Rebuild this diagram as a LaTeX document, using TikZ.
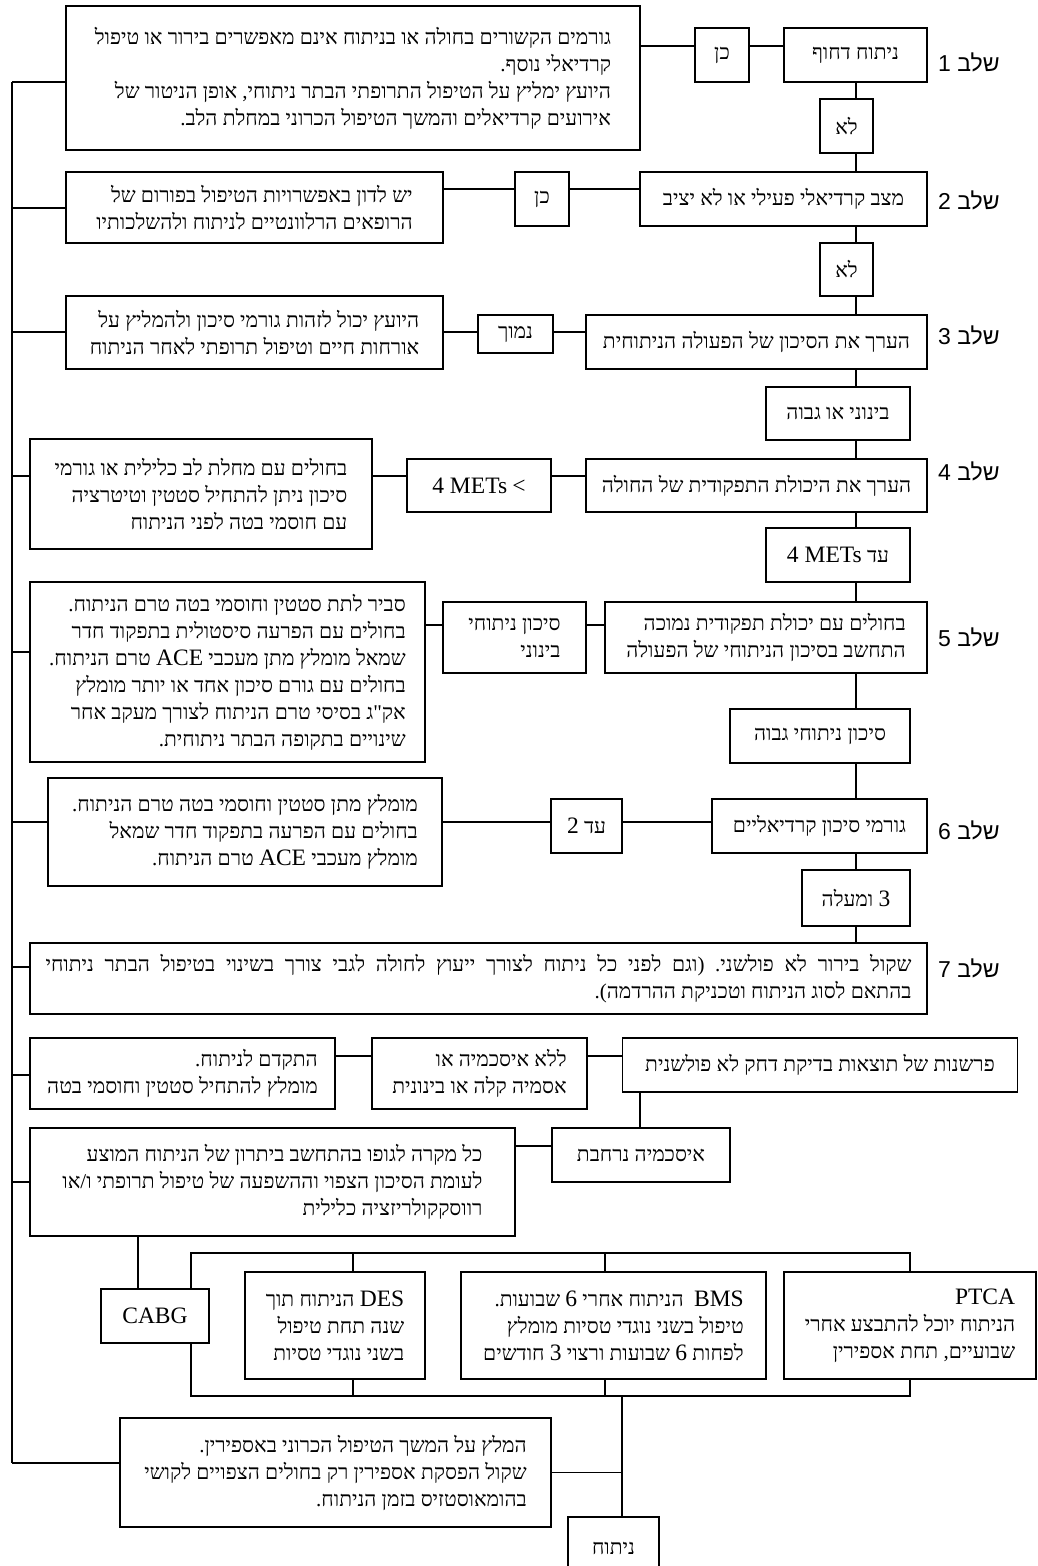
\documentclass[tikz,border=0pt]{standalone}
\usepackage{fontspec}
\setmainfont{Liberation Serif}
\newfontfamily\hebfont[Script=Hebrew]{Liberation Serif}
\newfontfamily\hebsans[Script=Hebrew]{Liberation Sans}
\newfontfamily\latinfont[Scale=1.12]{Liberation Serif}
\TeXXeTstate=1
\frenchspacing
\newcommand{\rl}[1]{\beginR#1\endR}
\newcommand{\lat}[1]{{\latinfont #1}}
\tikzstyle{stepbox} = [rectangle, draw, line width=1.4pt, fill=white, inner xsep=8pt, inner ysep=3pt, align=right, font=\hebfont\fontsize{21}{27}\selectfont]
\tikzstyle{answer} = [stepbox, align=center]
\tikzstyle{steplabel} = [anchor=west, inner sep=0pt, font=\hebsans\fontsize{23}{28}\selectfont]
\tikzstyle{link} = [line width=1.4pt]

\begin{document}
\begin{tikzpicture}[x=1pt, y=-1pt]
  \fill [white] (0,0) rectangle (1037,1566);
  \useasboundingbox (0,0) rectangle (1037,1566);
  \coordinate (sp) at (856,0);
  \coordinate (bus) at (12,0);

  % step 1
  \node (a1) [stepbox, minimum width=574pt, minimum height=144pt] at (353,78)
    {\rl{גורמים הקשורים בחולה או בניתוח אינם מאפשרים בירור או טיפול}\\
     \rl{קרדיאלי נוסף.}\\
     \rl{היועץ ימליץ על הטיפול התרופתי הבתר ניתוחי, אופן הניטור של}\\
     \rl{אירועים קרדיאלים והמשך הטיפול הכרוני במחלת הלב.}};
  \node (yes1) [answer, minimum width=54pt, minimum height=54pt] at (722,55) {\rl{כן}};
  \node (s1) [stepbox, minimum width=143pt, minimum height=54pt] at (855.5,55) {\rl{ניתוח דחוף}};
  \node (no1) [answer, minimum width=53pt, minimum height=54pt] at (846.5,126) {\rl{לא}};
  \node (l1) [steplabel] at (938,62) {\rl{שלב 1}};

  % step 2
  \node (s2) [stepbox, minimum width=287pt, minimum height=54pt] at (783.5,199) {\rl{מצב קרדיאלי פעילי או לא יציב}};
  \node (yes2) [answer, minimum width=54pt, minimum height=54pt] at (542,199) {\rl{כן}};
  \node (a2) [stepbox, minimum width=377pt, minimum height=71pt] at (254.5,207.5)
    {\rl{יש לדון באפשרויות הטיפול בפורום של}\\
     \rl{הרופאים הרלוונטיים לניתוח ולהשלכותיו}};
  \node (no2) [answer, minimum width=53pt, minimum height=53pt] at (846.5,269.5) {\rl{לא}};
  \node (l2) [steplabel] at (938,200) {\rl{שלב 2}};

  % step 3
  \node (s3) [stepbox, minimum width=341pt, minimum height=54pt] at (756.5,342) {\rl{הערך את הסיכון של הפעולה הניתוחית}};
  \node (low3) [answer, minimum width=75pt, minimum height=38pt] at (515.5,334) {\rl{נמוך}};
  \node (a3) [stepbox, minimum width=377pt, minimum height=73pt] at (254.5,332.5)
    {\rl{היועץ יכול לזהות גורמי סיכון ולהמליץ על}\\
     \rl{אורחות חיים וטיפול תרופתי לאחר הניתוח}};
  \node (mid3) [stepbox, minimum width=144pt, minimum height=53pt] at (838,413.5) {\rl{בינוני או גבוה}};
  \node (l3) [steplabel] at (938,335) {\rl{שלב 3}};

  % step 4
  \node (s4) [stepbox, minimum width=341pt, minimum height=53pt] at (756.5,485.5) {\rl{הערך את היכולת התפקודית של החולה}};
  \node (met4) [stepbox, minimum width=144pt, minimum height=53pt] at (479,485.5) {\rl{\lat{<} \beginL\lat{4 METs}\endL}};
  \node (a4) [stepbox, minimum width=342pt, minimum height=110pt] at (201,494)
    {\rl{בחולים עם מחלת לב כלילית או גורמי}\\
     \rl{סיכון ניתן להתחיל סטטין וטיטרציה}\\
     \rl{עם חוסמי בטה לפני הניתוח}};
  \node (upto4) [stepbox, minimum width=144pt, minimum height=54pt] at (838,555) {\rl{עד \beginL\lat{4 METs}\endL}};
  \node (l4) [steplabel] at (938,471) {\rl{שלב 4}};

  % step 5
  \node (s5) [stepbox, minimum width=322pt, minimum height=71pt] at (766,637.5)
    {\rl{בחולים עם יכולת תפקודית נמוכה}\\
     \rl{התחשב בסיכון הניתוחי של הפעולה}};
  \node (med5) [stepbox, minimum width=143pt, minimum height=71pt] at (514.5,637.5)
    {\rl{סיכון ניתוחי}\\ \rl{בינוני}};
  \node (a5) [stepbox, minimum width=395pt, minimum height=180pt] at (227.5,672)
    {\rl{סביר לתת סטטין וחוסמי בטה טרם הניתוח.}\\
     \rl{בחולים עם הפרעה סיסטולית בתפקוד חדר}\\
     \rl{שמאל מומלץ מתן מעכבי \lat{ACE} טרם הניתוח.}\\
     \rl{בחולים עם גורם סיכון אחד או יותר מומלץ}\\
     \rl{אק"ג בסיסי טרם הניתוח לצורך מעקב אחר}\\
     \rl{שינויים בתקופה הבתר ניתוחית.}};
  \node (high5) [stepbox, minimum width=180pt, minimum height=54pt] at (820,736) {\rl{סיכון ניתוחי גבוה}};
  \node (l5) [steplabel] at (938,637) {\rl{שלב 5}};

  % step 6
  \node (s6) [stepbox, minimum width=215pt, minimum height=54pt] at (819.5,826) {\rl{גורמי סיכון קרדיאליים}};
  \node (two6) [answer, minimum width=71pt, minimum height=54pt] at (586.5,826) {\rl{עד \lat{2}}};
  \node (a6) [stepbox, minimum width=394pt, minimum height=108pt] at (245,832)
    {\rl{מומלץ מתן סטטין וחוסמי בטה טרם הניתוח.}\\
     \rl{בחולים עם הפרעה בתפקוד חדר שמאל}\\
     \rl{מומלץ מעכבי \lat{ACE} טרם הניתוח.}};
  \node (three6) [answer, minimum width=108pt, minimum height=56pt] at (856,898) {\rl{\lat{3} ומעלה}};
  \node (l6) [steplabel] at (938,830) {\rl{שלב 6}};

  % step 7
  \node (s7) [stepbox, minimum width=897pt, minimum height=71pt] at (478.5,978.5)
    {\hbox to 866pt{\beginR שקול בירור לא פולשני. (וגם לפני כל ניתוח לצורך ייעוץ לחולה לגבי צורך בשינוי בטיפול הבתר ניתוחי\endR}\\
     \rl{בהתאם לסוג הניתוח וטכניקת ההרדמה).}};
  \node (l7) [steplabel] at (938,968) {\rl{שלב 7}};

  % stress test
  \node (nis) [stepbox, minimum width=395pt, minimum height=54pt] at (820,1065) {\rl{פרשנות של תוצאות בדיקת דחק לא פולשנית}};
  \node (noisch) [stepbox, minimum width=215pt, minimum height=71pt] at (479.5,1073.5)
    {\rl{ללא איסכמיה או}\\ \rl{אסמיה קלה או בינונית}};
  \node (proceed) [stepbox, minimum width=305pt, minimum height=71pt] at (182.5,1073.5)
    {\rl{התקדם לניתוח.}\\ \rl{מומלץ להתחיל סטטין וחוסמי בטה}};
  \node (wide) [stepbox, minimum width=178pt, minimum height=54pt] at (641,1155) {\rl{איסכמיה נרחבת}};
  \node (case) [stepbox, minimum width=485pt, minimum height=108pt] at (272.5,1182)
    {\rl{כל מקרה לגופו בהתחשב ביתרון של הניתוח המוצע}\\
     \rl{לעומת הסיכון הצפוי וההשפעה של טיפול תרופתי ו/או}\\
     \rl{רווסקקולריזציה כלילית}};

  % revascularisation
  \node (cabg) [answer, minimum width=108pt, minimum height=54pt] at (155,1316) {\lat{CABG}};
  \node (des) [stepbox, minimum width=180pt, minimum height=107pt] at (335,1325.5)
    {\rl{\lat{DES} הניתוח תוך}\\ \rl{שנה תחת טיפול}\\ \rl{בשני נוגדי טסיות}};
  \node (bms) [stepbox, minimum width=305pt, minimum height=107pt] at (613.5,1325.5)
    {\rl{\lat{BMS}\ \ הניתוח אחרי \lat{6} שבועות.}\\
     \rl{טיפול בשני נוגדי טסיות מומלץ}\\
     \rl{לפחות \lat{6} שבועות ורצוי \lat{3} חודשים}};
  \node (ptca) [stepbox, minimum width=252pt, minimum height=107pt] at (910,1325.5)
    {\rl{\lat{PTCA}}\\ \rl{הניתוח יוכל להתבצע אחרי}\\ \rl{שבועיים, תחת אספירין}};
  \node (asp) [stepbox, minimum width=431pt, minimum height=109pt] at (335.5,1472.5)
    {\rl{המלץ על המשך הטיפול הכרוני באספירין.}\\
     \rl{שקול הפסקת אספירין רק בחולים הצפויים לקושי}\\
     \rl{בהומאוסטזיס בזמן הניתוח.}};
  \node (surg) [answer, minimum width=91pt, minimum height=63pt] at (613.5,1548.5) {\rl{ניתוח}};

  \draw [link] (s1.west |- 0,46) -- (yes1.east |- 0,46) (yes1.west |- 0,46) -- (a1.east |- 0,46);
  \draw [link] (s2.west |- 0,189) -- (yes2.east |- 0,189) (yes2.west |- 0,189) -- (a2.east |- 0,189);
  \draw [link] (s3.west |- 0,332) -- (low3.east |- 0,332) (low3.west |- 0,332) -- (a3.east |- 0,332);
  \draw [link] (s4.west |- 0,476) -- (met4.east |- 0,476) (met4.west |- 0,476) -- (a4.east |- 0,476);
  \draw [link] (s5.west |- 0,625) -- (med5.east |- 0,625) (med5.west |- 0,625) -- (a5.east |- 0,625);
  \draw [link] (s6.west |- 0,822) -- (two6.east |- 0,822) (two6.west |- 0,822) -- (a6.east |- 0,822);
  \foreach \u/\v in {s1/no1, no1/s2, s2/no2, no2/s3, s3/mid3, mid3/s4, s4/upto4, upto4/s5, s5/high5, high5/s6, s6/three6, three6/s7}
    \draw [link] (\u.south -| sp) -- (\v.north -| sp);

  \draw [link] (nis.west |- 0,1056) -- (noisch.east |- 0,1056) (noisch.west |- 0,1056) -- (proceed.east |- 0,1056);
  \draw [link] (nis.south -| 640,0) -- (wide.north -| 640,0);
  \draw [link] (wide.west |- 0,1146) -- (case.east |- 0,1146);
  \draw [link] (case.south -| 138,0) -- (cabg.north -| 138,0);

  \coordinate (btl) at (191,1253);
  \coordinate (bbr) at (910,1396);
  \draw [link] (cabg.north -| btl) -- (btl) -- (btl -| bbr) -- (ptca.north -| bbr);
  \draw [link] (cabg.south -| btl) -- (btl |- bbr) -- (bbr) -- (ptca.south -| bbr);
  \foreach \n/\x in {des/353, bms/605}
    \draw [link] (\n.north -| \x,0) -- (\x,1253) (\n.south -| \x,0) -- (\x,1396);
  \draw [link] (bbr -| 622,0) -- (surg.north -| 622,0);
  \draw [link] (asp.east) -- (asp.east -| 622,0);

  \foreach \n/\y in {a1/82, a2/208, a3/332, a4/476, a5/652, a6/822, s7/967, proceed/1075, case/1182, asp/1463}
    \draw [link] (\n.west |- 0,\y) -- (bus |- 0,\y);
  \draw [link] (bus |- 0,82) -- (bus |- 0,1463);
\end{tikzpicture}
\end{document}
